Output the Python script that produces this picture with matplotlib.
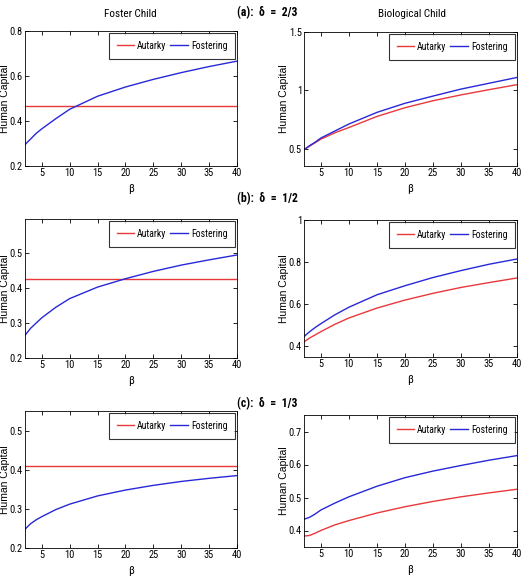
import matplotlib
matplotlib.use("Agg")
import matplotlib.pyplot as plt

plt.rcParams['font.family'] = ['Roboto Condensed', 'Liberation Sans Narrow', 'Open Sans Condensed',
                               'Liberation Sans', 'DejaVu Sans']
plt.rcParams['font.stretch'] = 'condensed'

beta = [2, 3, 4, 5, 7.5, 10, 15, 20, 25, 30, 35, 40]

# (a) delta = 2/3
a_foster_aut = 0.465
a_foster_fos = [0.295, 0.32, 0.345, 0.365, 0.41, 0.452, 0.51, 0.551, 0.585, 0.615, 0.642, 0.666]
a_bio_aut = [0.49, 0.52, 0.55, 0.58, 0.635, 0.68, 0.775, 0.85, 0.91, 0.96, 1.005, 1.048]
a_bio_fos = [0.49, 0.525, 0.555, 0.59, 0.65, 0.71, 0.81, 0.888, 0.95, 1.01, 1.06, 1.11]

# (b) delta = 1/2
b_foster_aut = 0.426
b_foster_fos = [0.265, 0.285, 0.30, 0.315, 0.345, 0.37, 0.403, 0.427, 0.448, 0.466, 0.481, 0.495]
b_bio_aut = [0.422, 0.44, 0.455, 0.47, 0.505, 0.535, 0.582, 0.62, 0.652, 0.68, 0.703, 0.725]
b_bio_fos = [0.447, 0.47, 0.49, 0.508, 0.55, 0.586, 0.645, 0.688, 0.727, 0.76, 0.79, 0.815]

# (c) delta = 1/3
c_foster_aut = 0.409
c_foster_fos = [0.248, 0.262, 0.272, 0.28, 0.298, 0.312, 0.333, 0.348, 0.36, 0.37, 0.378, 0.385]
c_bio_aut = [0.383, 0.385, 0.392, 0.40, 0.417, 0.43, 0.453, 0.472, 0.488, 0.502, 0.514, 0.525]
c_bio_fos = [0.434, 0.44, 0.45, 0.462, 0.483, 0.502, 0.534, 0.56, 0.58, 0.597, 0.613, 0.627]

headings = ["(a):  \u03b4  =  2/3", "(b):  \u03b4  =  1/2", "(c):  \u03b4  =  1/3"]
xticks = [5, 10, 15, 20, 25, 30, 35, 40]

W, H = 523, 584
fig = plt.figure(figsize=(W / 100, H / 100), dpi=100)

def px(l, t, r, b):
    return [l / W, 1 - b / H, (r - l) / W, (b - t) / H]

panels = [
    (px(25, 31, 237, 166), [a_foster_aut] * len(beta), a_foster_fos, (0.2, 0.8), [0.2, 0.4, 0.6, 0.8], ['0.2', '0.4', '0.6', '0.8']),
    (px(304, 32, 517, 166), a_bio_aut, a_bio_fos, (0.35, 1.5), [0.5, 1.0, 1.5], ['0.5', '1', '1.5']),
    (px(25, 219, 237, 358), [b_foster_aut] * len(beta), b_foster_fos, (0.2, 0.598), [0.2, 0.3, 0.4, 0.5], ['0.2', '0.3', '0.4', '0.5']),
    (px(304, 220, 517, 357), b_bio_aut, b_bio_fos, (0.35, 1.0), [0.4, 0.6, 0.8, 1.0], ['0.4', '0.6', '0.8', '1']),
    (px(25, 411, 237, 548), [c_foster_aut] * len(beta), c_foster_fos, (0.2, 0.55), [0.2, 0.3, 0.4, 0.5], ['0.2', '0.3', '0.4', '0.5']),
    (px(304, 415, 517, 547), c_bio_aut, c_bio_fos, (0.35, 0.75), [0.4, 0.5, 0.6, 0.7], ['0.4', '0.5', '0.6', '0.7']),
]

for i, (pos, aut, fos, ylim, yt, ytl) in enumerate(panels):
    ax = fig.add_axes(pos)
    ax.plot(beta, aut, color='#e8383c', lw=1.0, label='Autarky')
    ax.plot(beta, fos, color='#2828d8', lw=1.0, label='Fostering')
    ax.set_xlim(2, 40)
    ax.set_ylim(*ylim)
    ax.set_xticks(xticks)
    ax.set_yticks(yt)
    ax.set_yticklabels(ytl)
    ax.tick_params(direction='in', top=True, right=True, labelsize=7.5, length=3, width=0.6, pad=1.5)
    for s in ax.spines.values():
        s.set_linewidth(0.6)
    ax.set_xlabel('\u03b2', fontsize=8, labelpad=4)
    ax.set_ylabel('Human Capital', fontsize=7.5, family=['Liberation Sans', 'DejaVu Sans'])
    ax.yaxis.set_label_coords(-15 / 212, 0.5)
    leg = ax.legend(loc='upper right', ncol=2, fontsize=7, frameon=True, fancybox=False,
                    handlelength=1.8, columnspacing=0.4, handletextpad=0.3,
                    borderaxespad=0.2, borderpad=0.8)
    leg.get_frame().set_edgecolor('black')
    leg.get_frame().set_linewidth(0.8)

fig.text(130 / W, 1 - 14 / H, 'Foster Child', ha='center', va='center', fontsize=8)
fig.text(412 / W, 1 - 14 / H, 'Biological Child', ha='center', va='center', fontsize=8)
for y, h in zip([13, 199, 404], headings):
    fig.text(267 / W, 1 - y / H, h, ha='center', va='center', fontsize=8.5, fontweight='bold')

fig.savefig('out.png', dpi=100)
